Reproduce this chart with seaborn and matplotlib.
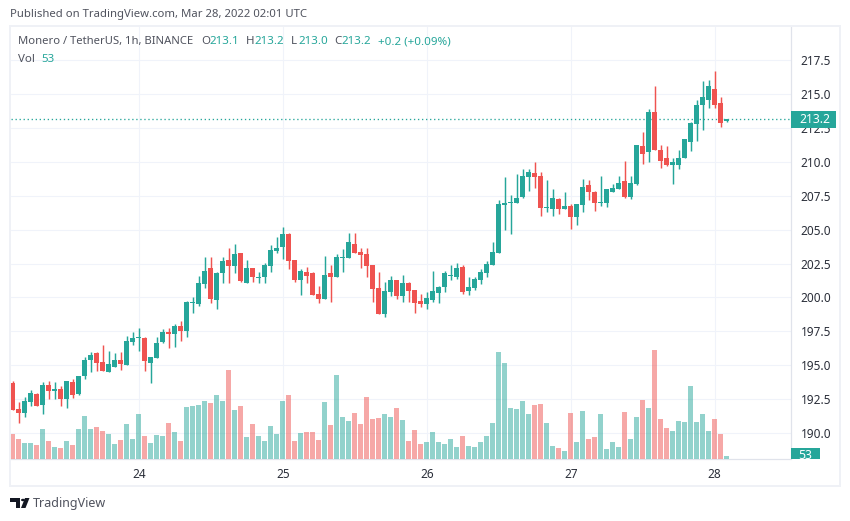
import numpy as np
import pandas as pd
import matplotlib
matplotlib.use("Agg")
import matplotlib.pyplot as plt
from matplotlib.patches import Rectangle, Polygon, Circle
from matplotlib.transforms import blended_transform_factory
import seaborn as sns

highs = [193.85,192.30,192.65,193.19,192.96,193.77,193.85,193.77,193.48,193.85,193.99,194.21,195.61,195.98,195.98,196.49,196.05,195.91,195.98,197.16,
197.45,197.74,197.08,195.61,197.08,197.67,197.74,198.04,198.26,199.73,200.02,201.57,202.96,202.96,201.86,202.96,203.62,203.92,203.25,202.74,
202.15,201.86,202.52,203.84,204.43,205.17,204.72,202.74,202.08,202.22,201.86,200.83,203.03,202.37,203.18,203.55,204.72,204.72,203.62,203.62,
202.37,201.86,201.12,201.56,201.27,201.64,201.12,200.54,200.24,200.39,201.93,200.83,201.93,202.37,202.52,202.37,201.49,201.49,202.08,202.67,
204.07,207.15,208.84,207.52,209.07,209.43,209.43,209.95,209.21,208.62,207.96,207.30,207.74,206.86,206.86,208.70,208.63,207.82,208.92,207.96,
208.33,208.92,210.02,208.92,211.20,212.16,213.85,215.54,211.20,211.13,210.24,210.83,211.64,212.89,214.58,215.91,215.98,216.71,214.73,213.12]
lows = [191.71,190.76,191.20,192.01,192.01,191.42,192.52,192.52,192.01,191.86,192.60,192.82,193.99,194.51,194.58,194.58,194.51,194.88,194.66,195.02,
196.49,196.05,194.58,193.70,195.54,196.64,196.27,196.35,196.79,197.08,198.85,199.36,200.69,199.58,199.14,201.05,201.05,201.78,201.12,201.05,
201.12,201.05,201.05,201.86,203.25,202.81,202.08,201.12,200.17,201.05,200.17,199.58,199.87,199.65,201.49,201.86,202.89,203.25,202.15,201.49,
199.65,198.77,198.55,200.09,199.87,199.65,199.65,198.84,199.29,199.14,199.65,199.58,200.39,201.27,201.34,200.24,200.17,200.54,200.98,201.49,
202.37,203.26,204.95,204.65,206.93,207.30,207.81,208.04,205.98,206.27,205.98,206.12,206.49,205.02,205.32,206.27,207.16,206.35,206.71,206.64,
207.74,207.96,207.30,207.23,208.26,209.80,209.95,210.83,209.51,209.66,208.33,209.44,210.24,210.76,211.49,212.30,213.92,213.92,212.52,212.89]
opens = [193.70,191.79,191.49,192.30,192.89,192.08,193.55,193.11,193.26,192.52,193.77,192.89,194.21,195.39,195.91,195.24,194.51,194.88,195.39,195.02,
196.71,197.01,197.01,195.17,195.54,196.71,197.45,197.30,197.89,197.52,199.58,199.51,200.98,202.16,199.80,201.78,202.74,202.30,203.25,201.05,
202.15,201.42,201.49,202.30,203.40,203.69,204.65,202.74,201.27,201.86,201.78,200.24,199.87,201.78,201.49,202.89,202.89,203.92,203.33,203.18,
202.37,200.68,198.77,200.39,201.27,200.09,201.05,200.54,199.73,199.51,199.80,200.32,200.76,201.57,201.49,202.23,200.46,200.68,201.27,201.79,
202.37,203.26,206.79,206.93,206.93,207.37,208.84,209.14,208.92,206.57,206.49,207.23,206.49,206.71,205.90,206.79,208.26,207.74,206.94,206.94,
207.74,207.96,208.55,207.38,208.33,211.13,210.69,213.63,210.83,210.24,209.73,209.73,210.24,211.42,212.74,214.14,214.51,215.39,214.29,212.97]
closes = [191.71,191.49,192.38,192.96,192.01,193.55,193.11,193.26,192.52,193.85,192.82,194.21,195.39,195.76,195.17,194.58,195.10,195.39,195.10,196.79,
197.01,197.08,195.32,195.61,196.64,197.45,197.30,197.89,197.52,199.66,199.66,201.05,201.94,199.88,201.79,202.67,202.30,203.18,201.19,202.15,
201.49,201.49,202.37,203.47,203.62,204.65,202.67,201.27,201.93,201.56,200.17,199.87,201.64,201.49,202.96,202.96,204.06,203.25,203.11,202.30,
200.61,198.77,200.46,201.27,200.09,201.05,200.46,199.58,199.51,199.95,200.46,200.76,201.79,201.64,202.15,200.39,200.76,201.34,201.86,202.45,
203.33,206.86,206.93,207.01,207.30,208.92,209.21,208.84,206.57,206.64,207.30,206.49,206.71,205.90,206.86,208.11,207.74,206.94,207.01,207.96,
208.04,208.41,207.38,208.41,211.20,210.54,213.63,210.83,210.02,209.73,209.95,210.24,211.64,212.82,214.14,214.73,215.54,214.21,212.82,213.12]
volumes = [559,444,352,352,306,674,398,260,237,398,306,674,973,674,720,628,559,329,421,789,
444,1019,513,352,536,513,812,605,398,1180,1203,1226,1318,1272,1456,1318,2031,1111,1203,490,
789,513,398,743,559,1318,1456,398,582,605,605,421,1295,766,1916,950,858,1042,789,1410,
904,927,1019,950,1157,881,398,651,329,375,605,375,329,444,260,513,283,260,375,513,
812,2445,2192,1157,1134,1318,1019,1226,1249,812,283,237,168,1042,375,1088,444,490,1019,214,
375,260,1065,444,950,1341,1157,2491,904,697,628,858,835,1663,835,1019,628,904,559,53]
price_ticks = [190.0,192.5,195.0,197.5,200.0,202.5,205.0,207.5,210.0,212.5,215.0,217.5]
day_positions = [21,45,69,93,117]
day_labels = ["24","25","26","27","28"]

W, H = 850, 521
GREEN, RED = "#26a69a", "#ef5350"
TXT = "#50535e"
sns.set_theme(style="white")
plt.rcParams["font.family"] = ["Noto Sans", "DejaVu Sans"]

fig = plt.figure(figsize=(W/100, H/100), dpi=100, facecolor="white")
L, R, T, B = 10.5, 790.5, 26.0, 458.5
ax = fig.add_axes([L/W, (H-B)/H, (R-L)/W, (B-T)/H])
ax.set_zorder(1)

idx = np.arange(len(closes))
o, c, hi, lo = map(np.array, (opens, closes, highs, lows))
up = c >= o
cols = np.where(up, GREEN, RED)
ax.vlines(idx, lo, hi, colors=list(cols), linewidth=1.05, zorder=3)
ax.bar(idx, np.maximum(np.abs(c-o), 0.07), bottom=np.minimum(o, c), width=5/6,
       color=cols, linewidth=0, zorder=4)
ax.axhline(closes[-1], color=GREEN, linewidth=0.95, linestyle=(0, (1, 2.05)), zorder=2)

vol_ax = ax.twinx()
vol_ax.set_zorder(2)
vol_ax.patch.set_visible(False)
frame = pd.DataFrame({"t": idx, "volume": volumes, "dir": np.where(up, "up", "down")})
sns.barplot(data=frame, x="t", y="volume", hue="dir", palette={"up": GREEN, "down": RED},
            native_scale=True, dodge=False, width=5/6, alpha=0.5, saturation=1,
            linewidth=0, legend=False, ax=vol_ax)
vol_ax.set_ylim(0, (B-T)*23)
vol_ax.set_xlabel(""); vol_ax.set_ylabel("")
vol_ax.xaxis.set_visible(False)
vol_ax.yaxis.set_visible(False)
for s in vol_ax.spines.values():
    s.set_visible(False)

ax.set_xlim((L-12.7)/6, (R-12.7)/6)
SC = 13.58
ax.set_ylim(190-(B-433.3)/SC, 190+(433.3-T)/SC)
ax.yaxis.tick_right()
ax.set_yticks(price_ticks)
ax.set_yticklabels([f"{p:.1f}" for p in price_ticks], fontsize=8.5, color="#2a2e39", ha="left")
ax.set_xticks(day_positions)
ax.set_xticklabels(day_labels, fontsize=8.5, color="#2a2e39")
ax.tick_params(axis="y", length=0, pad=7.2)
ax.tick_params(axis="x", length=0, pad=6.5)
ax.grid(True, color="#f0f3fa", linewidth=0.8, zorder=0)
ax.set_axisbelow(True)
for k in ("top", "left"):
    ax.spines[k].set_visible(False)
for k in ("right", "bottom"):
    ax.spines[k].set_color("#e0e3eb")
    ax.spines[k].set_linewidth(0.9)

# tags on the price scale
tag = fig.add_axes([R/W, (H-B)/H, 48/W, (B-T)/H])
tag.set_zorder(5)
tag.set_axis_off()
tag.set_xlim(0, 1)
tag.set_ylim(0, 1)
pt = blended_transform_factory(tag.transAxes, ax.transData)
tag.add_patch(Rectangle((0, closes[-1]-8.4/SC), 45.5/48, 16.8/SC, transform=pt, color=GREEN, linewidth=0))
tag.text(24/48, closes[-1], "213.2", transform=pt, color="white", fontsize=8.8,
         fontweight="bold", ha="center", va="center")
vt = blended_transform_factory(tag.transAxes, vol_ax.transData)
tag.add_patch(Rectangle((0, volumes[-1]-8.4*23), 29/48, 16.8*23, transform=vt, color=GREEN, linewidth=0))
tag.text(0.5*29/48, volumes[-1]+0.3*23, "53", transform=vt, color="white", fontsize=8.8,
         fontweight="bold", ha="center", va="center", clip_on=True)

# outer frame
def px_rect(x0, y0, x1, y1, color):
    fig.add_artist(Rectangle((x0/W, 1-y1/H), (x1-x0)/W, (y1-y0)/H, transform=fig.transFigure,
                             facecolor=color, edgecolor="none", zorder=6))
FR = "#eff1f6"
px_rect(9, 25, 841, 27, FR)
px_rect(9, 484.5, 841, 486.5, FR)
px_rect(9, 25, 11, 486.5, FR)
px_rect(838.5, 25, 840.5, 486.5, FR)

def t(x, y, s, color=TXT, size=8.3, **kw):
    fig.text(x/W, 1-y/H, s, color=color, fontsize=size, ha="left", va="center", zorder=7, **kw)

t(10, 15, "Published on TradingView.com, Mar 28, 2022 02:01 UTC", size=8.15)
t(18, 41.5, "Monero / TetherUS, 1h, BINANCE", size=8.1)
for x, s, col in [(201, "O", TXT), (209, "213.1", GREEN), (246, "H", TXT), (254, "213.2", GREEN),
                  (291, "L", TXT), (298, "213.0", GREEN), (334, "C", TXT), (341, "213.2", GREEN),
                  (378, "+0.2 (+0.09%)", GREEN)]:
    t(x, 41.5, s, color=col, size=8.3)
t(18, 59, "Vol", size=8.3)
t(41.7, 59, "53", color=GREEN, size=8.3)

# logo
LOGO = "#131722"
def px(pts):
    return [(a/W, 1-b/H) for a, b in pts]
for pts in ([(10, 498), (20, 498), (20, 508), (15.5, 508), (15.5, 502), (10, 502)],
            [(25, 498), (29.5, 498), (25.5, 508), (21, 508)]):
    fig.add_artist(Polygon(px(pts), closed=True, transform=fig.transFigure, facecolor=LOGO, edgecolor="none"))
fig.add_artist(Circle((23/W, 1-500/H), 2/W, transform=fig.transFigure, facecolor=LOGO, edgecolor="none"))
t(33, 503, "TradingView", color="#50535e", size=9.0)

fig.savefig("out.png", dpi=100, facecolor="white")
